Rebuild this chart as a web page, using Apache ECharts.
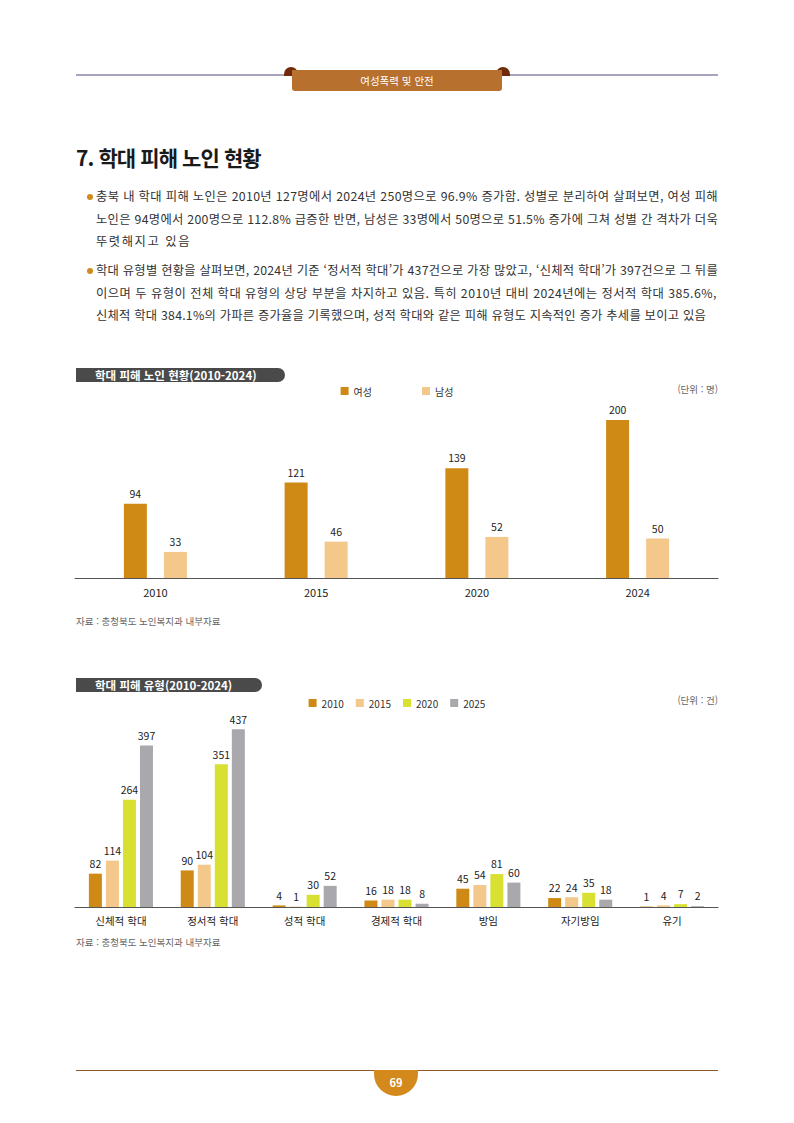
<!DOCTYPE html>
<html lang="ko">
<head>
<meta charset="utf-8">
<title>학대 피해 노인 현황</title>
<script src="https://cdn.jsdelivr.net/npm/echarts@6/dist/echarts.min.js"></script>
<style>
  html, body { margin: 0; padding: 0; background: #fff; }
  body { width: 794px; height: 1123px; position: relative; overflow: hidden;
         font-family: 'Noto Sans CJK KR', 'Noto Sans', sans-serif; color: #333; }
  #chart { position: absolute; left: 0; top: 0; width: 794px; height: 1123px; }
  .abs { position: absolute; }
  .hline { position: absolute; left: 76px; width: 642px; height: 2px; background: #a8a4c0; top: 74px; }
  .curl { position: absolute; top: 67px; width: 14px; height: 9px; background: #702a0a; border-radius: 7px 7px 0 0; }
  .tab { position: absolute; left: 292px; top: 70px; width: 210px; height: 21px; background: #b8702f;
         border-radius: 0 0 3px 3px; color: #fff; font-size: 10.5px; text-align: center; line-height: 22px; }
  .title { left: 76px; top: 142px; font-size: 21px; font-weight: 700; color: #1a1a1a; letter-spacing: -0.9px; }
  .bullet { left: 96px; font-size: 12.3px; line-height: 22.5px; color: #333; white-space: nowrap; }
  .bullet .ln { display: block; }
  .bullet .dot { position: absolute; left: -9px; top: 9px; width: 6px; height: 6px; border-radius: 3px; background: #d18a1c; }
  .fline { position: absolute; left: 76px; width: 642px; height: 1px; background: #8a5a2c; top: 1070px; }
  .page { position: absolute; left: 374px; top: 1070px; width: 44px; height: 26px; background: #d4891c;
          border-radius: 0 0 22px 22px; color: #fff; font-size: 11px; font-weight: 700; text-align: center; line-height: 24px; }
</style>
</head>
<body>
<div id="chart"></div>

<div class="hline"></div>
<div class="curl" style="left:284px"></div>
<div class="curl" style="left:496px"></div>
<div class="tab">여성폭력 및 안전</div>

<div class="abs title">7. 학대 피해 노인 현황</div>

<div class="abs bullet" style="top:185px">
  <span class="dot"></span>
  <span class="ln" data-w="622">충북 내 학대 피해 노인은 2010년 127명에서 2024년 250명으로 96.9% 증가함. 성별로 분리하여 살펴보면, 여성 피해</span>
  <span class="ln" data-w="622">노인은 94명에서 200명으로 112.8% 급증한 반면, 남성은 33명에서 50명으로 51.5% 증가에 그쳐 성별 간 격차가 더욱</span>
  <span class="ln" data-w="95">뚜렷해지고 있음</span>
</div>
<div class="abs bullet" style="top:259px">
  <span class="dot"></span>
  <span class="ln" data-w="622">학대 유형별 현황을 살펴보면, 2024년 기준 ‘정서적 학대’가 437건으로 가장 많았고, ‘신체적 학대’가 397건으로 그 뒤를</span>
  <span class="ln" data-w="621">이으며 두 유형이 전체 학대 유형의 상당 부분을 차지하고 있음. 특히 2010년 대비 2024년에는 정서적 학대 385.6%,</span>
  <span class="ln" data-w="610">신체적 학대 384.1%의 가파른 증가율을 기록했으며, 성적 학대와 같은 피해 유형도 지속적인 증가 추세를 보이고 있음</span>
</div>

<div class="fline"></div>
<div class="page">69</div>

<script>
// 그림 1: 학대 피해 노인 현황 (명)
var years = ['2010', '2015', '2020', '2024'];
var female = [94, 121, 139, 200];
var male = [33, 46, 52, 50];

// 그림 2: 학대 피해 유형 (건)
var types = ['신체적 학대', '정서적 학대', '성적 학대', '경제적 학대', '방임', '자기방임', '유기'];
var typeYears = ['2010', '2015', '2020', '2025'];
var v2010 = [82, 90, 4, 16, 45, 22, 1];
var v2015 = [114, 104, 1, 18, 54, 24, 4];
var v2020 = [264, 351, 30, 18, 81, 35, 7];
var v2025 = [397, 437, 52, 8, 60, 18, 2];

// 본문 줄 너비 맞추기
document.querySelectorAll('.bullet .ln').forEach(function (el) {
  el.style.display = 'inline-block';
  var w = el.getBoundingClientRect().width;
  var target = +el.getAttribute('data-w');
  var n = el.textContent.length;
  el.style.letterSpacing = ((target - w) / n) + 'px';
  el.style.display = 'block';
});

var FONT = "'Noto Sans CJK KR', 'Noto Sans', sans-serif";
var colors1 = ['#cf8a16', '#f4c78b'];
var colors2 = ['#cf8a16', '#f4c78b', '#d8e031', '#a9a9ad'];

var chart = echarts.init(document.getElementById('chart'), null, { renderer: 'svg' });

function valueLabel() {
  return { show: true, position: 'top', distance: 5, fontSize: 10.5, color: '#222', fontFamily: FONT };
}

function xAxisStyle(data, idx, fs) {
  return {
    type: 'category', gridIndex: idx, data: data,
    axisLine: { lineStyle: { color: '#555', width: 1.2 } },
    axisTick: { show: false },
    axisLabel: { fontSize: fs, color: '#222', margin: 8, fontFamily: FONT }
  };
}

var typeSeries = [v2010, v2015, v2020, v2025].map(function (vals, i) {
  return {
    name: typeYears[i], type: 'bar', xAxisIndex: 1, yAxisIndex: 1,
    data: vals, barWidth: 13, barGap: '31%',
    itemStyle: { color: colors2[i] },
    label: valueLabel()
  };
});

function badge(x, y, w, text) {
  return [
    { type: 'rect', shape: { x: x, y: y, width: w, height: 14, r: [0, 7, 7, 0] },
      style: { fill: '#4a4a4a' } },
    { type: 'text', x: x + 19, y: y + 7,
      style: { text: text, fill: '#fff', fontSize: 11.5, fontWeight: 'bold', fontFamily: FONT,
               verticalAlign: 'middle' } }
  ];
}

function note(x, y, text, align) {
  return { type: 'text', x: x, y: y,
    style: { text: text, fill: '#666', fontSize: 9.5, fontFamily: FONT, align: align || 'left',
             verticalAlign: 'middle' } };
}

chart.setOption({
  animation: false,
  textStyle: { fontFamily: FONT },
  grid: [
    { left: 75, width: 643, top: 380.5, height: 197.5 },
    { left: 75, width: 643, top: 703.7, height: 203.3 }
  ],
  legend: [
    { data: ['여성', '남성'], top: 381, left: 'center', icon: 'rect', itemWidth: 8, itemHeight: 8,
      itemGap: 50, textStyle: { fontSize: 10, color: '#333' } },
    { data: typeYears, top: 693, left: 'center', icon: 'rect', itemWidth: 8, itemHeight: 8,
      itemGap: 12, textStyle: { fontSize: 10, color: '#333' } }
  ],
  xAxis: [xAxisStyle(years, 0, 11), xAxisStyle(types, 1, 10.5)],
  yAxis: [
    { type: 'value', gridIndex: 0, min: 0, max: 250, show: false },
    { type: 'value', gridIndex: 1, min: 0, max: 500, show: false }
  ],
  series: [
    { name: '여성', type: 'bar', xAxisIndex: 0, yAxisIndex: 0, data: female,
      barWidth: 23, barGap: '74%', itemStyle: { color: colors1[0] }, label: valueLabel() },
    { name: '남성', type: 'bar', xAxisIndex: 0, yAxisIndex: 0, data: male,
      barWidth: 23, barGap: '74%', itemStyle: { color: colors1[1] }, label: valueLabel() }
  ].concat(typeSeries),
  graphic: [].concat(
    badge(76, 368, 209, '학대 피해 노인 현황(2010-2024)'),
    badge(76, 678, 186, '학대 피해 유형(2010-2024)'),
    [
      note(718, 389, '(단위 : 명)', 'right'),
      note(718, 700, '(단위 : 건)', 'right'),
      note(76, 621, '자료 : 충청북도 노인복지과 내부자료'),
      note(76, 942, '자료 : 충청북도 노인복지과 내부자료')
    ]
  )
});
</script>
</body>
</html>
